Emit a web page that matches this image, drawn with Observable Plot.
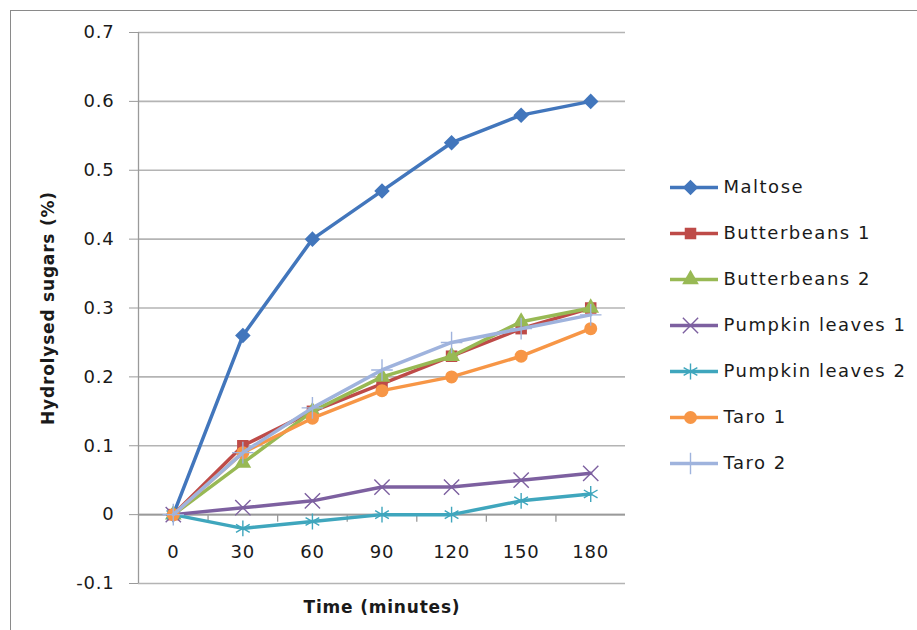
<!DOCTYPE html>
<html><head><meta charset="utf-8">
<script src="https://cdn.jsdelivr.net/npm/d3@7"></script>
<script src="https://cdn.jsdelivr.net/npm/@observablehq/plot@0.6"></script>
<style>
html,body{margin:0;padding:0;background:#fff}
body{width:917px;height:630px;position:relative;overflow:hidden;font-family:"DejaVu Sans",sans-serif}
#frame{position:absolute;left:10px;top:10px;width:1000px;height:700px;border:1px solid #8a8a8a;box-sizing:border-box}
#chart{position:absolute;left:0;top:0}
#legend{position:absolute;left:665px;top:162px}
#legend text{letter-spacing:1.5px}
#chart text{letter-spacing:0.8px}
</style></head><body>
<div id="frame"></div><div id="chart"></div><div id="legend"></div>
<script>
const times = [0, 30, 60, 90, 120, 150, 180];
const seriesNames = ["Maltose", "Butterbeans 1", "Butterbeans 2", "Pumpkin leaves 1", "Pumpkin leaves 2", "Taro 1", "Taro 2"];
const maltose        = [0, 0.26, 0.40, 0.47, 0.54, 0.58, 0.60];
const butterbeans1   = [0, 0.10, 0.15, 0.19, 0.23, 0.27, 0.30];
const butterbeans2   = [0, 0.075, 0.15, 0.20, 0.23, 0.28, 0.30];
const pumpkinLeaves1 = [0, 0.01, 0.02, 0.04, 0.04, 0.05, 0.06];
const pumpkinLeaves2 = [0, -0.02, -0.01, 0, 0, 0.02, 0.03];
const taro1          = [0, 0.09, 0.14, 0.18, 0.20, 0.23, 0.27];
const taro2          = [0, 0.09, 0.155, 0.21, 0.25, 0.27, 0.29];
const yTicks = [-0.1, 0, 0.1, 0.2, 0.3, 0.4, 0.5, 0.6, 0.7];
const colors = ["#4276BC", "#BE4B48", "#98B954", "#7D60A0", "#3FA6BD", "#F79646", "#9FB3DD"];
const symbols = ["diamond2", "square", "triangle", "times", "asterisk", "circle", "plus"];
const filled = [true, true, true, false, false, true, false];
const sizes = [7, 6.5, 6.2, 7, 7.5, 6.5, 7];

const values = [maltose, butterbeans1, butterbeans2, pumpkinLeaves1, pumpkinLeaves2, taro1, taro2];
const rows = seriesNames.map((name, i) => times.map((t, j) => ({series: name, time: t, value: values[i][j]})));
const half = (times[1] - times[0]) / 2;
const bounds = [times[0] - half, ...times.map(t => t + half)];
const fmt = d => d === 0 ? "0" : d.toFixed(1);

const marks = [
  Plot.gridY(yTicks, {stroke: "#b4b4b4", strokeOpacity: 1, strokeWidth: 1.6}),
  Plot.ruleX([bounds[0]], {y1: yTicks[0], y2: yTicks[yTicks.length - 1], stroke: "#9a9a9a", strokeWidth: 1.3}),
  Plot.ruleY([0], {stroke: "#9a9a9a", strokeWidth: 1.6}),
  Plot.ruleX(bounds.slice(1, -1), {y1: 0, y2: -0.011, stroke: "#9a9a9a", strokeWidth: 1.3}),
  Plot.axisY({ticks: yTicks, tickSize: 9, tickPadding: 15, tickFormat: fmt, stroke: "#9a9a9a", label: null, fontSize: 18}),
  Plot.axisX({ticks: times, tickSize: 0, tickPadding: 0, dy: -38, tickFormat: d => String(d), label: null, fontSize: 18}),
  Plot.text(["Hydrolysed sugars (%)"], {frameAnchor: "left", textAnchor: "middle", lineAnchor: "middle", rotate: -90, dx: -90, fontWeight: "bold", fontSize: 17}),
  Plot.text(["Time (minutes)"], {frameAnchor: "bottom", textAnchor: "middle", dy: 24, fontWeight: "bold", fontSize: 17, lineAnchor: "middle"})
];
seriesNames.forEach((name, i) => {
  marks.push(Plot.line(rows[i], {x: "time", y: "value", stroke: "series", strokeWidth: 3.5}));
  marks.push(Plot.dot(rows[i], filled[i]
    ? {x: "time", y: "value", symbol: "series", fill: "series", stroke: "none", r: sizes[i]}
    : {x: "time", y: "value", symbol: "series", stroke: "series", fill: "none", strokeWidth: 1.4, r: sizes[i]}));
});

const chart = Plot.plot({
  width: 917, height: 630,
  marginLeft: 138, marginRight: 292, marginTop: 32, marginBottom: 47,
  x: {domain: [bounds[0], bounds[bounds.length - 1]]},
  y: {domain: [yTicks[0], yTicks[yTicks.length - 1]]},
  color: {domain: seriesNames, range: colors},
  symbol: {domain: seriesNames, range: symbols},
  style: {fontFamily: "'DejaVu Sans', sans-serif", fontSize: "17px", color: "#1a1a1a", background: "transparent"},
  marks
});
document.getElementById("chart").append(chart);

const legendMarks = [
  Plot.ruleY(seriesNames, {y: d => d, x1: 5, x2: 53, stroke: d => d, strokeWidth: 3.5})
];
seriesNames.forEach((name, i) => {
  legendMarks.push(Plot.dot([name], filled[i]
    ? {x: 25, y: d => d, symbol: d => d, fill: d => d, stroke: "none", r: sizes[i]}
    : {x: 25, y: d => d, symbol: d => d, stroke: d => d, fill: "none", strokeWidth: 1.4, r: sizes[i]}));
});
legendMarks.push(Plot.text(seriesNames, {x: 58, y: d => d, text: d => d, textAnchor: "start", fill: "#1a1a1a"}));

const legend = Plot.plot({
  width: 252, height: 330, margin: 0,
  x: {type: "identity", axis: null},
  y: {type: "point", domain: seriesNames, range: [23, 303], padding: 0, axis: null},
  color: {domain: seriesNames, range: colors},
  symbol: {domain: seriesNames, range: symbols},
  style: {fontFamily: "'DejaVu Sans', sans-serif", fontSize: "18px", color: "#1a1a1a", background: "transparent"},
  marks: legendMarks
});
document.getElementById("legend").append(legend);
</script>
</body></html>
